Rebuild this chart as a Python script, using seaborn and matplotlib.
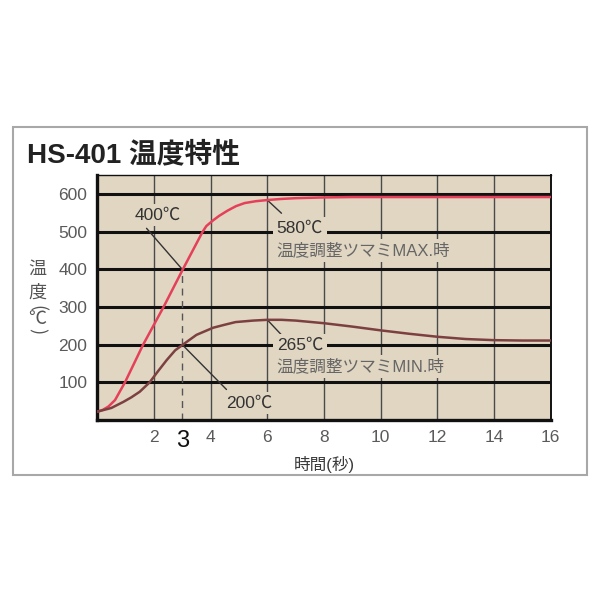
import matplotlib
matplotlib.use("Agg")
import matplotlib.pyplot as plt
from matplotlib.patches import Rectangle
import pandas as pd
import seaborn as sns

# --- data ---
time_max = [0, 0.2, 0.4, 0.63, 0.98, 1.62, 2.34, 3.02, 3.72, 3.85, 4.07, 4.3, 4.6, 4.9, 5.2, 5.6,
            6.0, 6.5, 7.0, 8.0, 9.0, 10, 12, 14, 16]
temp_max = [22, 27, 36, 53, 100, 200, 300, 400, 500, 515, 529, 542, 556, 568, 576, 581,
            584, 587, 589, 591, 592, 592, 592, 592, 592]

time_min = [0, 0.5, 0.92, 1.2, 1.5, 1.85, 2.15, 2.45, 2.75, 3.02, 3.5, 4.09, 4.5, 4.88, 5.5, 6.0,
            6.5, 7.0, 8.0, 9.0, 10, 11, 12, 13, 14, 15, 16]
temp_min = [22, 32, 48, 60, 75, 100, 130, 159, 185, 200, 226, 245, 253, 260, 264, 266,
            266, 264, 257, 248, 238, 229, 221, 215, 212, 211, 211]

x_ticks = [2, 3, 4, 6, 8, 10, 12, 14, 16]
y_ticks = [100, 200, 300, 400, 500, 600]
marker_time = 3

BG = "#e0d6c2"
RED = "#e5405a"
BROWN = "#7d4040"
JP = ["Liberation Sans", "Noto Sans CJK JP", "DejaVu Sans"]

sns.set_style("white")
plt.rcParams["font.family"] = JP

fig = plt.figure(figsize=(6, 6), dpi=100)
fig.patch.set_facecolor("white")

# outer frame
fig.patches.append(Rectangle((0.021, 0.208), 0.957, 0.58, transform=fig.transFigure,
                             fill=False, edgecolor="#a8a8a8", linewidth=1.5))
fig.text(0.045, 0.742, "HS-401 温度特性", fontsize=20, fontweight="bold",
         color="#222222", va="center", ha="left", family=JP)

ax = fig.add_axes([0.162, 0.3, 0.756, 0.408])
ax.set_facecolor(BG)

df_max = pd.DataFrame({"t": time_max, "T": temp_max})
df_min = pd.DataFrame({"t": time_min, "T": temp_min})

# grid
for xv in [2, 4, 6, 8, 10, 12, 14]:
    ax.axvline(xv, color="#4a4a4a", linewidth=1.0, zorder=1)
for yv in y_ticks:
    ax.axhline(yv, color="#111111", linewidth=2.2, zorder=1)

ax.plot([marker_time, marker_time], [0, 400], color="#555555", linewidth=1.0,
        linestyle=(0, (5, 4)), zorder=2)

sns.lineplot(data=df_max, x="t", y="T", ax=ax, color=RED, linewidth=1.8, zorder=4)
sns.lineplot(data=df_min, x="t", y="T", ax=ax, color=BROWN, linewidth=1.8, zorder=4)

ax.set_xlim(0, 16)
ax.set_ylim(0, 650)
ax.set_xticks(x_ticks)
ax.set_xticklabels([str(v) for v in x_ticks])
ax.set_yticks(y_ticks)
ax.set_yticklabels([str(v) for v in y_ticks])
ax.tick_params(length=0, labelsize=12.5, labelcolor="#5a5a5a", pad=7)
for lbl in ax.get_xticklabels():
    if lbl.get_text() == "3":
        lbl.set_fontsize(17)
        lbl.set_color("#111111")
ax.set_xlabel("時間(秒)", fontsize=12, color="#3a3a3a", labelpad=3)
ax.set_ylabel("")

for side, lw in [("left", 2.4), ("bottom", 2.4), ("top", 1.0), ("right", 1.4)]:
    ax.spines[side].set_visible(True)
    ax.spines[side].set_color("#111111")
    ax.spines[side].set_linewidth(lw)

# vertical (tategaki) y label
ylab = dict(fontsize=13, color="#555555", ha="center", va="center",
            family=["Noto Sans CJK JP", "DejaVu Sans"])
fig.text(0.062, 0.552, "温", **ylab)
fig.text(0.062, 0.513, "度", **ylab)
fig.text(0.062, 0.487, "(", rotation=270, **ylab)
fig.text(0.062, 0.469, "℃", **ylab)
fig.text(0.062, 0.448, ")", rotation=270, **ylab)

box = dict(facecolor=BG, edgecolor="none", pad=2.5)
lead = dict(color="#333333", linewidth=1.0, zorder=3)

# annotations
ax.plot([3.0, 1.74], [400, 509], **lead)
ax.text(2.14, 544, "400℃", fontsize=12.5, color="#333333", ha="center", va="center", bbox=box, zorder=5)
ax.plot([3.0, 4.56], [200, 81], **lead)
ax.text(5.38, 44, "200℃", fontsize=12.5, color="#333333", ha="center", va="center", bbox=box, zorder=5)

ax.plot([6.0, 6.5], [584, 549], **lead)
ax.text(6.33, 510, "580℃", fontsize=12.5, color="#333333", ha="left", va="center", bbox=box, zorder=5)
ax.text(6.33, 451, "温度調整ツマミMAX.時", fontsize=12, color="#666666", ha="left", va="center", bbox=box, zorder=5)

ax.plot([6.0, 6.5], [266, 226], **lead)
ax.text(6.33, 199, "265℃", fontsize=12.5, color="#333333", ha="left", va="center", bbox=box, zorder=5)
ax.text(6.33, 143, "温度調整ツマミMIN.時", fontsize=12, color="#666666", ha="left", va="center", bbox=box, zorder=5)

fig.savefig("out.png", dpi=100)
